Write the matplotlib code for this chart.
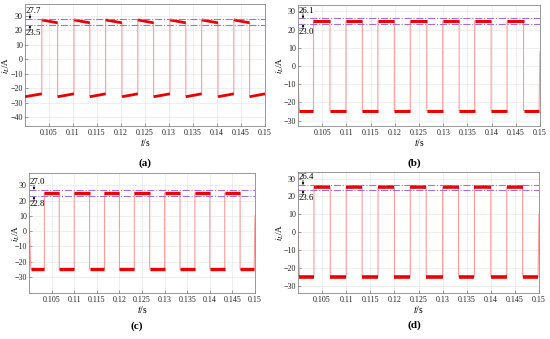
import numpy as np
import matplotlib.pyplot as plt

plt.rcParams['font.family'] = ['Liberation Serif', 'DejaVu Serif']
plt.rcParams['mathtext.fontset'] = 'stix'

# switching instants (s)
rise_a = [0.1035, 0.1102, 0.1168, 0.1235, 0.1302, 0.1368, 0.1435]
fall_a = [0.1068, 0.1135, 0.1202, 0.1268, 0.1335, 0.1402, 0.1468]
rise_b = [0.1032, 0.1099, 0.1165, 0.1232, 0.1299, 0.1365, 0.1432]
fall_b = [0.1066, 0.1133, 0.1199, 0.1266, 0.1333, 0.1399, 0.1466]
rise_c = [0.1034, 0.1100, 0.1167, 0.1233, 0.1300, 0.1367, 0.1433]
fall_c = [0.1067, 0.1134, 0.1200, 0.1267, 0.1334, 0.1400, 0.1467]
rise_d = [0.1033, 0.1100, 0.1166, 0.1233, 0.1300, 0.1366, 0.1433]
fall_d = [0.1067, 0.1133, 0.1200, 0.1266, 0.1333, 0.1400, 0.1466]

# plateau levels (start, end) in A
high_a = (27.0, 25.0)
low_a = (-26.0, -24.0)
high_b = (24.8, 24.8)
low_b = (-24.5, -24.5)
high_c = (25.0, 25.0)
low_c = (-25.0, -25.0)
high_d = (25.3, 25.3)
low_d = (-25.0, -25.0)

# trace at the left / right border (caught in a transition) and where it settles
edge_a = (-26.0, -24.0)
edge_b = (-8.0, 8.0)
edge_c = (12.0, 10.0)
edge_d = (2.0, 10.0)
settle_a = (0.1, 0.15)
settle_b = (0.1003, 0.1498)
settle_c = (0.1004, 0.1498)
settle_d = (0.1003, 0.1498)

# ripple bounds marked by dash-dot lines
bounds_a = (27.7, 23.5)
bounds_b = (26.1, 23.0)
bounds_c = (27.0, 22.8)
bounds_d = (26.4, 23.6)

ylims = [(-46, 38), (-33, 33.5), (-40.5, 38), (-34, 34)]
yticks = [np.arange(-40, 31, 10), np.arange(-30, 31, 10),
          np.arange(-30, 31, 10), np.arange(-30, 31, 10)]
xticks = [0.105, 0.11, 0.115, 0.12, 0.125, 0.13, 0.135, 0.14, 0.145, 0.15]
xticklabels = ['0.105', '0.11', '0.115', '0.12', '0.125', '0.13', '0.135', '0.14', '0.145', '0.15']
band_width = [2.0, 2.2, 2.4, 2.6]
panel_names = ['(a)', '(b)', '(c)', '(d)']

W, H = 550, 339
# axes boxes in pixels: left, right, top, bottom
boxes = [(25, 265, 4, 125.7), (298, 540, 5, 126),
         (29, 255, 173, 293), (298, 539, 171.5, 292.7)]
ylabel_x = [12, 286.5, 22, 286.5]
label_pos = [(145, 163), (414, 163), (137, 326), (414, 325)]

fig = plt.figure(figsize=(5.5, 3.39), dpi=100)

panels = [(rise_a, fall_a, high_a, low_a, edge_a, settle_a, bounds_a),
          (rise_b, fall_b, high_b, low_b, edge_b, settle_b, bounds_b),
          (rise_c, fall_c, high_c, low_c, edge_c, settle_c, bounds_c),
          (rise_d, fall_d, high_d, low_d, edge_d, settle_d, bounds_d)]

for k, (rise, fall, hi, lo, edge, settle, bnd) in enumerate(panels):
    l, r, t, b = boxes[k]
    ax = fig.add_axes([l / W, 1 - b / H, (r - l) / W, (b - t) / H])

    # full trace, thin and light (shows the edges)
    xs = [0.1, settle[0]]
    ys = [edge[0], lo[0]]
    for tr, tf in zip(rise, fall):
        xs += [tr, tr, tf, tf]
        ys += [lo[1], hi[0], hi[1], lo[0]]
    xs += [settle[1], 0.15]
    ys += [lo[1], edge[1]]
    ax.plot(xs, ys, color='#ff9a9a', lw=0.8, zorder=2)

    # plateaus, thick (noise band)
    lw = band_width[k]
    starts = [settle[0]] + list(fall)
    ends = list(rise) + [settle[1]]
    for s, e in zip(starts, ends):
        ax.plot([s, e], [lo[0], lo[1]], color='#ee0000', lw=lw, zorder=3,
                solid_capstyle='butt')
    for s, e in zip(rise, fall):
        ax.plot([s, e], [hi[0], hi[1]], color='#ee0000', lw=lw, zorder=3,
                solid_capstyle='butt')

    for v in bnd:
        ax.axhline(v, color='#a070e0', lw=0.8, ls='-.', zorder=4)

    # ripple annotations
    x0 = 0.1 + 1.0 / ((r - l) / 0.05)
    xa = 0.1 + 5.0 / ((r - l) / 0.05)
    ax.annotate(f'{bnd[0]:.1f}', xy=(x0, bnd[0]), xytext=(0, 5.5),
                textcoords='offset points', fontsize=6.3, ha='left', va='center', zorder=5)
    ax.annotate(f'{bnd[1]:.1f}', xy=(x0, bnd[1]), xytext=(0, -5.5),
                textcoords='offset points', fontsize=6.3, ha='left', va='center', zorder=5)
    ax.annotate('', xy=(xa, bnd[0]), xytext=(0, 3.5), textcoords='offset points',
                arrowprops=dict(arrowstyle='-|>', color='black', lw=0.5,
                                mutation_scale=3, shrinkA=0, shrinkB=0))
    ax.annotate('', xy=(xa, bnd[1]), xytext=(0, -3.5), textcoords='offset points',
                arrowprops=dict(arrowstyle='-|>', color='black', lw=0.5,
                                mutation_scale=3, shrinkA=0, shrinkB=0))

    ax.set_xlim(0.1, 0.15)
    ax.set_ylim(*ylims[k])
    ax.set_xticks(xticks)
    ax.set_xticklabels(xticklabels)
    ax.set_yticks(yticks[k])
    ax.tick_params(direction='in', length=2, width=0.4, labelsize=5.8,
                   pad=2.5, colors='#555555', labelcolor='#222222')
    ax.tick_params(axis='y', pad=1.5)
    ax.grid(True, color='#e4e4e4', lw=0.4)
    for sp in ax.spines.values():
        sp.set_color('#888888')
        sp.set_linewidth(0.6)
    ax.set_xlabel('$t$/s', fontsize=7, labelpad=0)
    ax.set_ylabel('$i_L$/A', fontsize=6.5)
    ax.yaxis.set_label_coords((ylabel_x[k] - l) / (r - l), 0.5)

    px, py = label_pos[k]
    fig.text(px / W, 1 - py / H, panel_names[k], fontsize=8, fontweight='bold',
             ha='center', va='center')

fig.savefig('out.png', dpi=100)
